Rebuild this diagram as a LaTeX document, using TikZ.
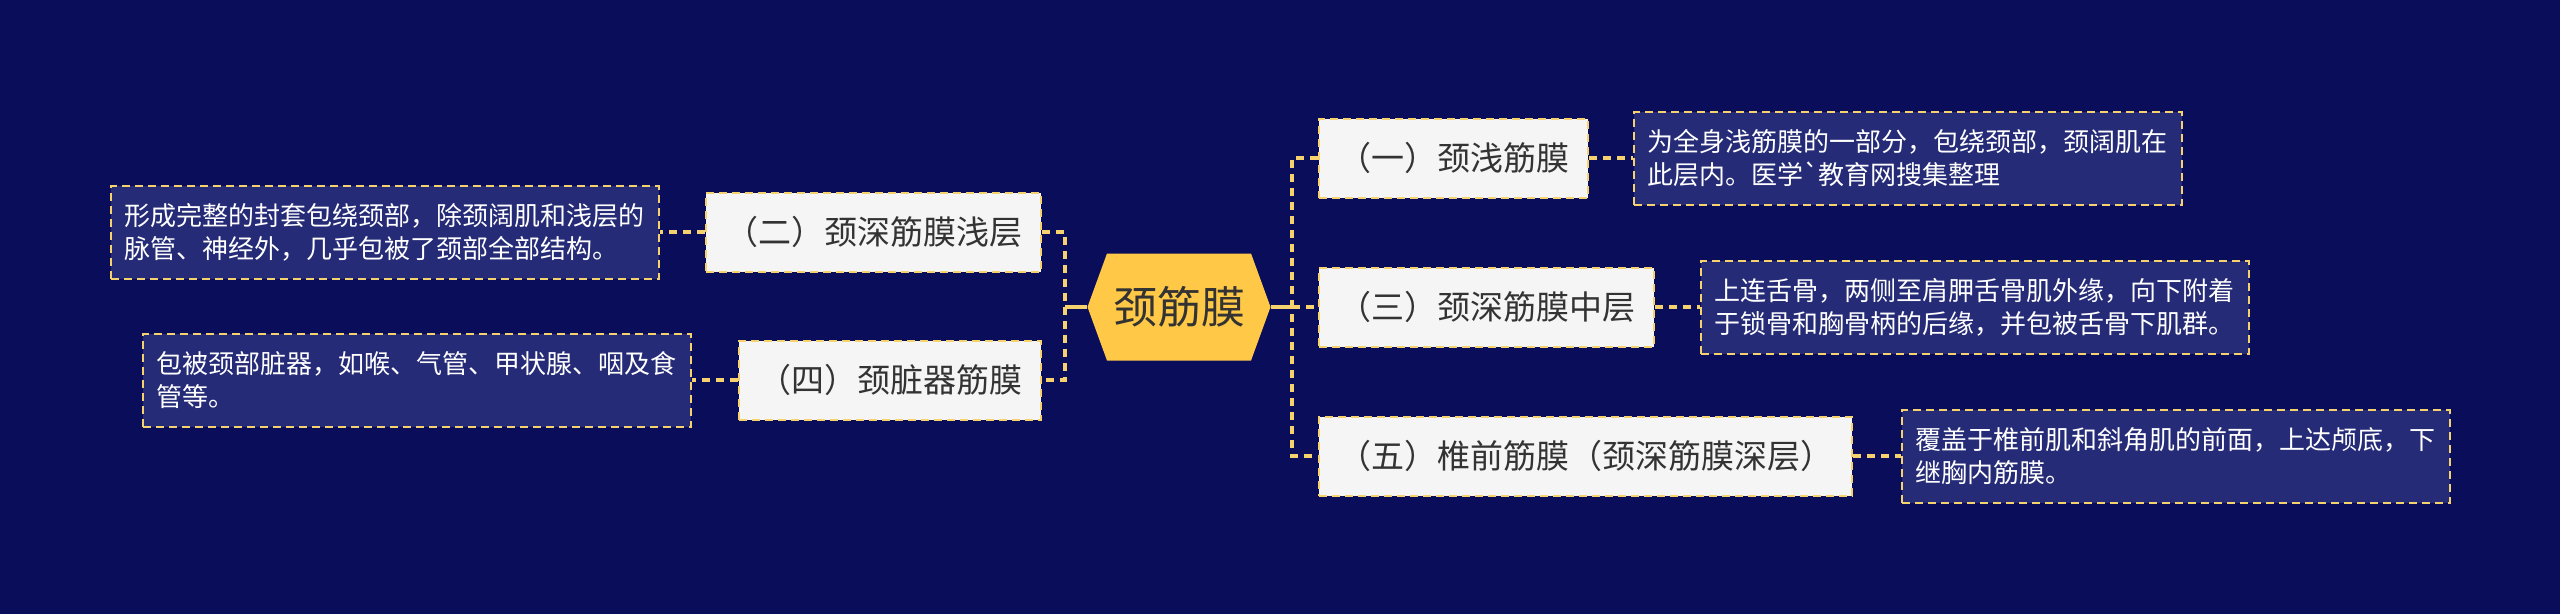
\documentclass[tikz,border=0pt]{standalone}
\usepackage{fontspec}
\usetikzlibrary{shapes.symbols}
\newfontfamily\cjk{Noto Sans CJK SC}
\definecolor{bgnavy}{HTML}{0A0E5A}
\definecolor{notenavy}{HTML}{252B76}
\definecolor{hexyellow}{HTML}{FFC847}
\definecolor{linkyellow}{HTML}{F6D26E}
\definecolor{boxwhite}{HTML}{F5F5F5}
\definecolor{textgray}{HTML}{333333}
\tikzset{
    topic/.style={shape=signal, signal to=east and west, signal pointer angle=140,
        fill=hexyellow, text=textgray, minimum width=183pt, minimum height=107pt,
        inner sep=0pt, font=\cjk\fontsize{44}{50}\selectfont},
    branch/.style={draw=linkyellow, line width=2pt, dash pattern=on 8pt off 5pt,
        fill=boxwhite, text=textgray, inner xsep=19pt, inner ysep=0pt,
        minimum height=79pt, font=\cjk\fontsize{33}{40}\selectfont},
    note/.style={draw=linkyellow, line width=2pt, dash pattern=on 8pt off 5pt,
        fill=notenavy, text=white, align=left, text width=522pt,
        inner xsep=13pt, inner ysep=0pt, minimum height=93pt,
        font=\cjk\fontsize{26}{33}\selectfont},
    link/.style={draw=linkyellow, line width=3.5pt},
    dlink/.style={link, dash pattern=on 8pt off 6pt},
}
\begin{document}
\begin{tikzpicture}[x=1pt, y=-1pt]
        \fill[bgnavy] (0,0) rectangle (2560,614);
        \node[topic] (root) at (1179,307) {颈筋膜};
        % right side
        \node[branch, anchor=west] (b1) at (1318,158) {（一）颈浅筋膜};
        \node[branch, anchor=west] (b3) at (1318,307) {（三）颈深筋膜中层};
        \node[branch, anchor=west] (b5) at (1318,456) {（五）椎前筋膜（颈深筋膜深层）};
        \node[note, anchor=west] (n1) at (1633,158) {为全身浅筋膜的一部分，包绕颈部，颈阔肌在\\此层内。医学`教育网搜集整理};
        \node[note, anchor=west] (n3) at (1700,307) {上连舌骨，两侧至肩胛舌骨肌外缘，向下附着\\于锁骨和胸骨柄的后缘，并包被舌骨下肌群。};
        \node[note, anchor=west] (n5) at (1901,456) {覆盖于椎前肌和斜角肌的前面，上达颅底，下\\继胸内筋膜。};
        % left side
        \node[branch, anchor=east] (b2) at (1042,232) {（二）颈深筋膜浅层};
        \node[branch, anchor=east] (b4) at (1042,380) {（四）颈脏器筋膜};
        \node[note, anchor=east] (n2) at (660,232) {形成完整的封套包绕颈部，除颈阔肌和浅层的\\脉管、神经外，几乎包被了颈部全部结构。};
        \node[note, anchor=east] (n4) at (692,380) {包被颈部脏器，如喉、气管、甲状腺、咽及食\\管等。};
        \coordinate (lspine) at (1065,307);
        \coordinate (rspine) at (1292,307);
        \draw[link] (root.west) -- (lspine);
        \draw[link] (root.east) -- (rspine);
        \draw[dlink] (b2.east) -| (lspine) |- (b4.east);
        \draw[dlink] (b1.west) -| (rspine) |- (b5.west);
        \draw[dlink] (rspine) -- (b3.west);
        \draw[dlink] (b1) -- (n1);
        \draw[dlink] (b3) -- (n3);
        \draw[dlink] (b5) -- (n5);
        \draw[dlink] (b2) -- (n2);
        \draw[dlink] (b4) -- (n4);
\end{tikzpicture}
\end{document}
